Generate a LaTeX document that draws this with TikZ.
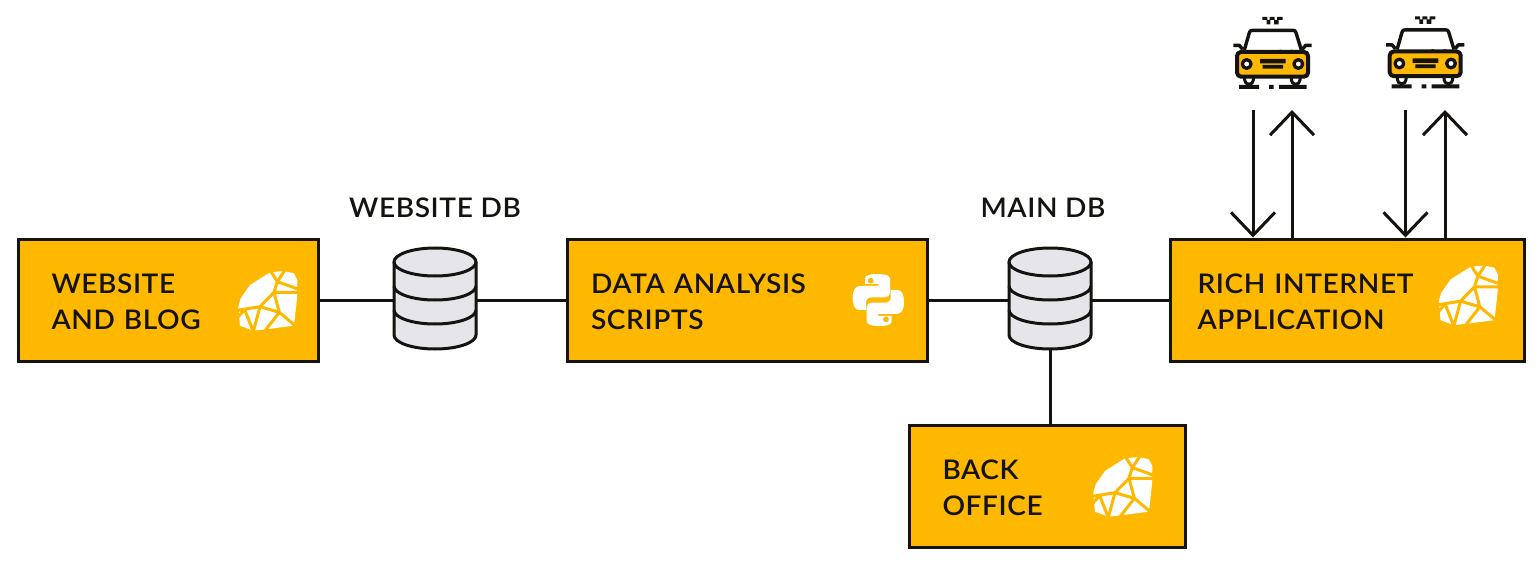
\documentclass[tikz,border=0pt]{standalone}
\usepackage{fontspec}
\setmainfont{Lato Semibold}[FakeStretch=1.04,LetterSpace=2.2]
\usetikzlibrary{arrows.meta}
\definecolor{amber}{HTML}{FFB800}
\definecolor{ink}{HTML}{15130F}
\definecolor{dbgrey}{HTML}{E6E6EA}
\newcommand{\firstrow}{\rule{0pt}{23pt}}
\tikzset{
  boxnode/.style={draw=ink,fill=amber,line width=3pt,rectangle,align=left,inner xsep=33.5pt,inner ysep=0pt,minimum height=122pt,text=ink,font=\fontsize{27}{36}\selectfont},
  label/.style={text=ink,inner sep=0pt,font=\fontsize{27}{36}\selectfont},
  wire/.style={draw=ink,line width=3pt},
  flow/.style={draw=ink,line width=3pt,-{Straight Barb[length=23pt,width=44pt,line width=3pt]}},
  dbspot/.style={minimum width=83pt,minimum height=101pt,inner sep=0pt,outer sep=0pt},
}
\newcommand{\dbicon}[2]{%
  \begin{scope}[shift={(#1,#2)},line width=3pt]
    \fill[dbgrey] (-41,-37) -- (-41,36) arc[start angle=180,end angle=0,x radius=41,y radius=14] -- (41,-37) arc[start angle=0,end angle=-180,x radius=41,y radius=14] -- cycle;
    \draw[ink] (-41,-37) -- (-41,36) arc[start angle=180,end angle=0,x radius=41,y radius=14] -- (41,-37);
    \draw[ink] (0,-37) ellipse[x radius=41,y radius=14];
    \draw[ink] (-41,-13) arc[start angle=180,end angle=0,x radius=41,y radius=14];
    \draw[ink] (-41,11) arc[start angle=180,end angle=0,x radius=41,y radius=14];
  \end{scope}}
\newcommand{\rubyicon}[2]{%
  \begin{scope}[shift={(#1,#2)},x=.3333pt,y=-.3333pt]
    \fill[white] (150,112) -- (190,108) -- (222,115) -- (232,135) -- (231,190) -- (222,272) -- (145,282) -- (100,287) -- (60,272) -- (55,215) -- (62,190) -- (90,150) -- cycle;
    \draw[amber,line width=3pt,line join=round]
      (150,105) -- (172,140) -- (162,172) -- (120,215) -- (52,226)
      (195,105) -- (172,140) -- (234,162)
      (162,172) -- (234,172)
      (162,172) -- (178,232) -- (228,274)
      (120,215) -- (178,232)
      (120,215) -- (100,290)
      (74,224) -- (100,290)
      (178,232) -- (136,286)
      (52,248) -- (74,224);
  \end{scope}}
\newcommand{\pyicon}[2]{%
  \begin{scope}[shift={(#1,#2)},x=.3333pt,y=-.3333pt]
    \fill[white,even odd rule] (75,72) -- (75,56) .. controls (75,47) and (88,42) .. (112,42) .. controls (136,42) and (150,47) .. (150,56) -- (150,98) .. controls (150,107) and (144,112) .. (135,112) -- (95,112) .. controls (84,112) and (78,118) .. (78,128) -- (78,150) -- (58,150) .. controls (44,150) and (38,135) .. (38,112) .. controls (38,92) and (46,78) .. (60,78) -- (115,78) -- (115,72) -- cycle
      (92,62) circle[x radius=9,y radius=9];
    \fill[white,even odd rule] (155,168) -- (155,184) .. controls (155,193) and (142,198) .. (118,198) .. controls (94,198) and (80,193) .. (80,184) -- (80,142) .. controls (80,133) and (86,128) .. (95,128) -- (135,128) .. controls (146,128) and (152,122) .. (152,112) -- (152,90) -- (172,90) .. controls (186,90) and (192,105) .. (192,128) .. controls (192,148) and (184,162) .. (170,162) -- (115,162) -- (115,168) -- cycle
      (138,178) circle[x radius=9,y radius=9];
  \end{scope}}
\newcommand{\taxiicon}[2]{%
  \begin{scope}[shift={(#1,#2)},x=.3333pt,y=-.3333pt,ink,line join=round]
    \fill (157,51) rectangle (172,60) (179,51) rectangle (194,60) (201,51) rectangle (218,60)
          (170,60) rectangle (181,73) (192,60) rectangle (206,73);
    \draw[line width=3.4pt] (103,150) -- (118,98) .. controls (120,92) and (122,91) .. (128,91) -- (248,91) .. controls (254,91) and (256,92) .. (258,98) -- (274,150);
    \draw[line width=3.4pt] (70,136) -- (88,136) -- (98,148) (305,136) -- (287,136) -- (277,148);
    \draw[line width=3.4pt] (208,150) arc[start angle=180,end angle=0,radius=20];
    \draw[fill=amber,line width=4pt,rounded corners=4pt] (81,156) rectangle (294,230);
    \draw[line width=3pt] (104,232) -- (104,240) arc[start angle=180,end angle=0,radius=13] -- (130,232)
                          (244,232) -- (244,240) arc[start angle=180,end angle=0,radius=13] -- (270,232);
    \fill (87,255) rectangle (147,267) (177,255) rectangle (191,267) (207,255) rectangle (290,267);
    \fill (150,177) rectangle (227,190) (158,195) rectangle (219,206);
    \draw[fill=white,line width=3.3pt] (110,192) circle[x radius=13,y radius=13] (265,192) circle[x radius=13,y radius=13];
  \end{scope}}
\begin{document}
\begin{tikzpicture}[x=1pt,y=-1pt]
\useasboundingbox (0,0) rectangle (1539,564);
% boxes
\node[boxnode,anchor=center,text width=233pt] (web) at (168,300) {\firstrow WEBSITE\\AND BLOG};
\node[boxnode,anchor=center,inner xsep=24pt,text width=312pt] (data) at (747,300) {\firstrow DATA ANALYSIS\\SCRIPTS};
\node[boxnode,anchor=center,inner xsep=27.5pt,text width=299pt] (rich) at (1347,300) {\firstrow RICH INTERNET\\APPLICATION};
\node[boxnode,anchor=center,text width=209pt] (back) at (1047,486) {\firstrow BACK\\OFFICE};
% databases
\node[dbspot] (db1) at (435,298.5) {};
\node[dbspot] (db2) at (1050,298.5) {};
\node[label] (lab1) at (435,208) {WEBSITE DB};
\node[label] (lab2) at (1043,208) {MAIN DB};
% connectors
\draw[wire] (web.east) -- (db1.west |- web.east);
\draw[wire] (db1.east |- data.west) -- (data.west);
\draw[wire] (data.east) -- (db2.west |- data.east);
\draw[wire] (db2.east |- rich.west) -- (rich.west);
\draw[wire] (db2.south) -- (db2.south |- back.north);
\dbicon{435}{299}
\dbicon{1050}{299}
% icons
\rubyicon{220}{235}
\pyicon{840}{260}
\rubyicon{1420.5}{229.5}
\rubyicon{1075}{421}
\taxiicon{1210}{0}
\taxiicon{1362.7}{-0.5}
% taxi arrows
\coordinate (t1) at (1253,110);
\coordinate (t2) at (1292,110);
\coordinate (t3) at (1405.5,110);
\coordinate (t4) at (1445,110);
\draw[flow] (t1) -- (t1 |- rich.north);
\draw[flow] (t2 |- rich.north) -- (t2);
\draw[flow] (t3) -- (t3 |- rich.north);
\draw[flow] (t4 |- rich.north) -- (t4);
\end{tikzpicture}
\end{document}
